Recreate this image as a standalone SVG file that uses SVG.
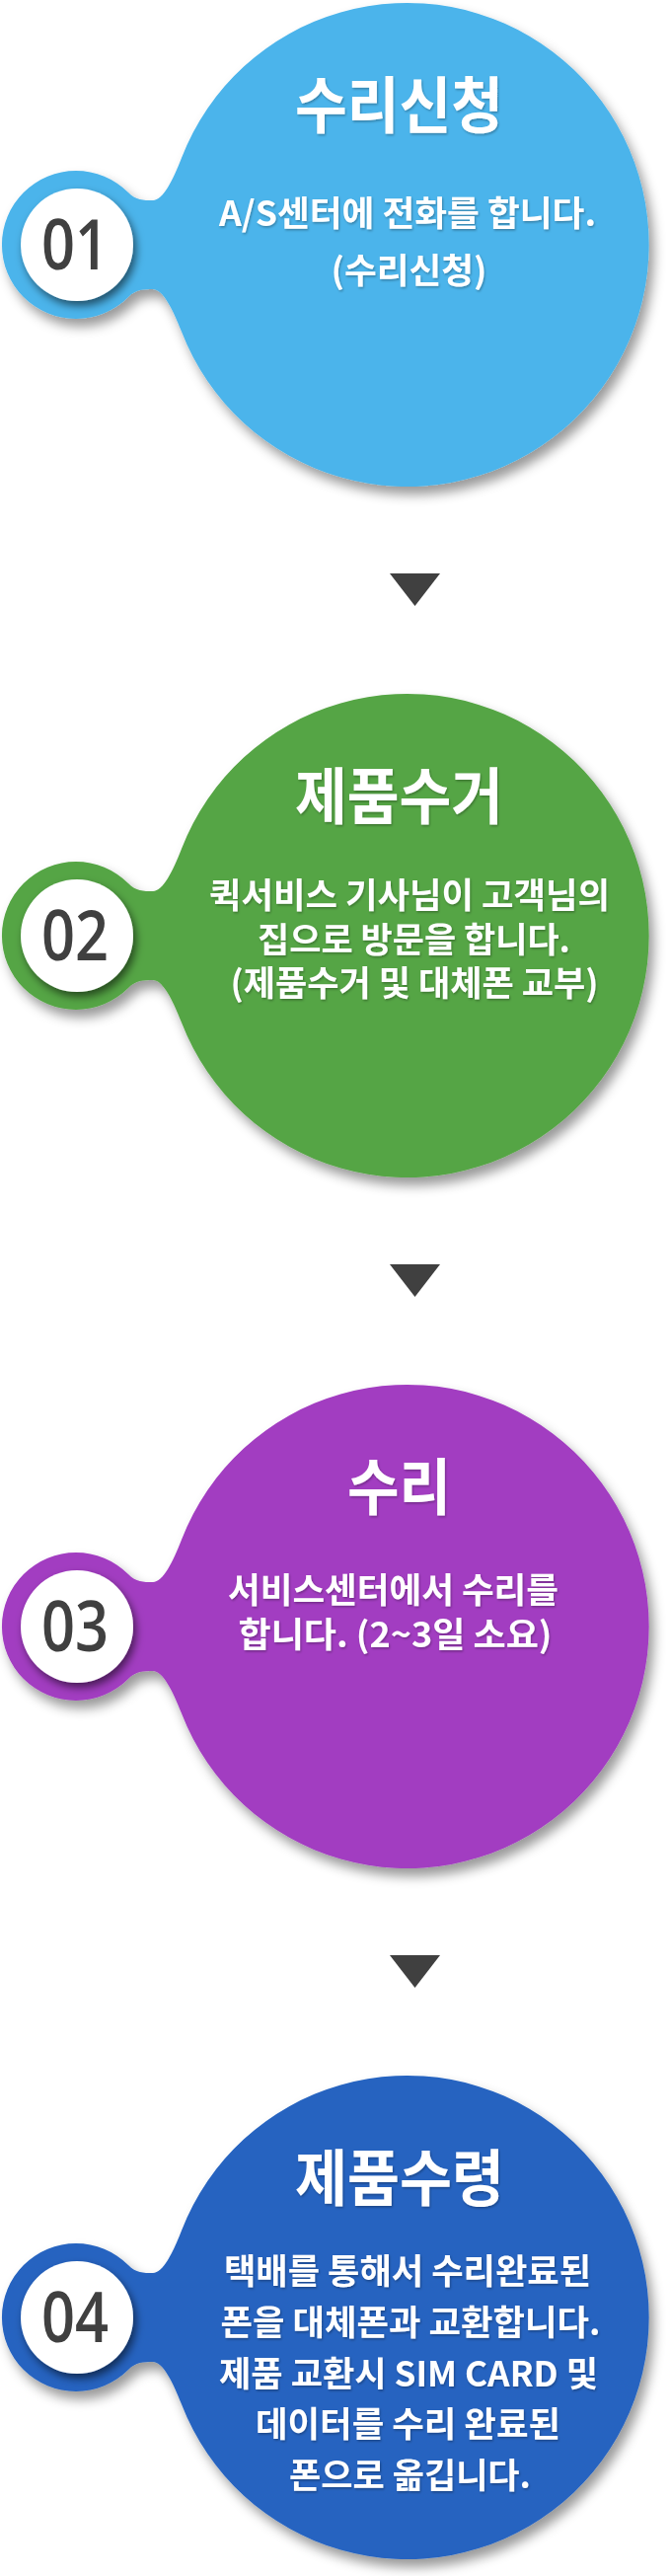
<svg xmlns="http://www.w3.org/2000/svg" xmlns:xlink="http://www.w3.org/1999/xlink" width="679" height="2610" viewBox="0 0 679 2610">
<style>
.title{font-family:"Noto Sans CJK KR","Noto Sans",sans-serif;font-weight:700;font-size:62px;fill:#ffffff;text-anchor:middle;}
.body{font-family:"Noto Sans CJK KR","Noto Sans",sans-serif;font-weight:700;font-size:35px;fill:#ffffff;text-anchor:middle;}
.num{font-family:"Open Sans","Noto Sans",sans-serif;font-weight:600;font-size:70px;fill:#404040;text-anchor:middle;}
.arrow{fill:#404040;}
</style>
<defs>
<path id="blob" d="M184,160 A245,245 0 1 1 184,336 C175,313 165,293 155,293 C145,293 138,293 130,301 A75,75 0 1 1 130,195 C138,203 145,203 155,203 C165,203 175,183 184,160 Z"/>
<filter id="bsh" x="-10%" y="-10%" width="125%" height="125%">
<feDropShadow dx="5" dy="8" stdDeviation="6" flood-color="#000" flood-opacity="0.4"/>
</filter>
<filter id="csh" x="-30%" y="-30%" width="170%" height="170%">
<feDropShadow dx="3" dy="5" stdDeviation="4" flood-color="#000" flood-opacity="0.55"/>
</filter>
<filter id="tsh" x="-5%" y="-20%" width="110%" height="150%">
<feDropShadow dx="1" dy="1.5" stdDeviation="1" flood-color="#000" flood-opacity="0.3"/>
</filter>
</defs>

<g id="step1">
<use xlink:href="#blob" fill="#4BB4EB" filter="url(#bsh)"/>
<circle cx="78" cy="248" r="57" fill="#ffffff" filter="url(#csh)"/>
<text class="num" x="76" y="273" textLength="68" lengthAdjust="spacingAndGlyphs">01</text>
<g filter="url(#tsh)">
<text class="title" x="404.5" y="130" textLength="211" lengthAdjust="spacingAndGlyphs">수리신청</text>
<text class="body" x="413" y="229" textLength="382" lengthAdjust="spacingAndGlyphs">A/S센터에 전화를 합니다.</text>
<text class="body" x="414.5" y="287" textLength="158" lengthAdjust="spacingAndGlyphs">(수리신청)</text>
</g>
</g>

<g id="step2" transform="translate(0,700)">
<use xlink:href="#blob" fill="#55A544" filter="url(#bsh)"/>
<circle cx="78" cy="248" r="57" fill="#ffffff" filter="url(#csh)"/>
<text class="num" x="76" y="273" textLength="68" lengthAdjust="spacingAndGlyphs">02</text>
<g filter="url(#tsh)">
<text class="title" x="404.5" y="130" textLength="211" lengthAdjust="spacingAndGlyphs">제품수거</text>
<text class="body" x="415" y="220" textLength="406" lengthAdjust="spacingAndGlyphs">퀵서비스 기사님이 고객님의</text>
<text class="body" x="419.5" y="265" textLength="317" lengthAdjust="spacingAndGlyphs">집으로 방문을 합니다.</text>
<text class="body" x="420" y="309" textLength="373" lengthAdjust="spacingAndGlyphs">(제품수거 및 대체폰 교부)</text>
</g>
</g>

<g id="step3" transform="translate(0,1400)">
<use xlink:href="#blob" fill="#A23CC1" filter="url(#bsh)"/>
<circle cx="78" cy="248" r="57" fill="#ffffff" filter="url(#csh)"/>
<text class="num" x="76" y="273" textLength="68" lengthAdjust="spacingAndGlyphs">03</text>
<g filter="url(#tsh)">
<text class="title" x="404.5" y="130" textLength="105" lengthAdjust="spacingAndGlyphs">수리</text>
<text class="body" x="398.5" y="224" textLength="335" lengthAdjust="spacingAndGlyphs">서비스센터에서 수리를</text>
<text class="body" x="400.5" y="269" textLength="318" lengthAdjust="spacingAndGlyphs">합니다. (2~3일 소요)</text>
</g>
</g>

<g id="step4" transform="translate(0,2100)">
<use xlink:href="#blob" fill="#2563C0" filter="url(#bsh)"/>
<circle cx="78" cy="248" r="57" fill="#ffffff" filter="url(#csh)"/>
<text class="num" x="76" y="273" textLength="68" lengthAdjust="spacingAndGlyphs">04</text>
<g filter="url(#tsh)">
<text class="title" x="405" y="130" textLength="212" lengthAdjust="spacingAndGlyphs">제품수령</text>
<text class="body" x="413" y="214" textLength="372" lengthAdjust="spacingAndGlyphs">택배를 통해서 수리완료된</text>
<text class="body" x="416" y="266" textLength="385" lengthAdjust="spacingAndGlyphs">폰을 대체폰과 교환합니다.</text>
<text class="body" x="414" y="318" textLength="384" lengthAdjust="spacingAndGlyphs">제품 교환시 SIM CARD 및</text>
<text class="body" x="413.5" y="369" textLength="309" lengthAdjust="spacingAndGlyphs">데이터를 수리 완료된</text>
<text class="body" x="415.5" y="421" textLength="245" lengthAdjust="spacingAndGlyphs">폰으로 옮깁니다.</text>
</g>
</g>

<g id="connectors">
<polygon class="arrow" points="395,581 446,581 420.5,614"/>
<polygon class="arrow" points="395,1281 446,1281 420.5,1314"/>
<polygon class="arrow" points="395,1981 446,1981 420.5,2014"/>
</g>
</svg>
